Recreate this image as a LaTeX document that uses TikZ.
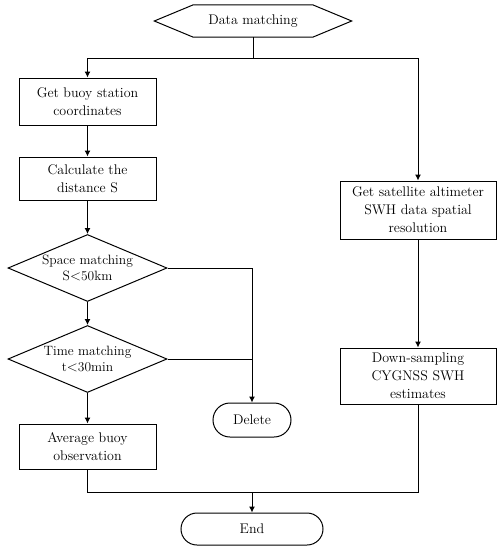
\documentclass[tikz,border=0pt]{standalone}
\usetikzlibrary{shapes.geometric,shapes.misc,arrows.meta}
\begin{document}
\begin{tikzpicture}[x=1pt,y=-1pt,
  every node/.style={font=\fontsize{14}{18}\selectfont, align=center, inner sep=0pt},
  box/.style={draw, line width=1pt, minimum width=137pt},
  rbox/.style={draw, line width=1pt, minimum width=156pt},
  dec/.style={diamond, draw, line width=1pt, minimum width=159pt, minimum height=67pt},
  dectext/.style={font=\fontsize{13.5}{16.5}\selectfont},
  term/.style={rounded rectangle, draw, line width=1pt},
  conn/.style={line width=1pt},
  arr/.style={conn, -{Latex[length=6pt,width=6pt]}}]
\useasboundingbox (0,0) rectangle (499,550);
% Data matching hexagon
\node (dm) at (253,21) [minimum width=119pt, minimum height=32pt] {Data matching};
\draw[conn] (dm.north west) -- (dm.north east) -- ([xshift=39pt]dm.east) -- (dm.south east) -- (dm.south west) -- ([xshift=-39pt]dm.west) -- cycle;
% left column
\node[box, minimum height=47pt] (b1) at (87.5,101.5) {Get buoy station\\coordinates};
\node[box, minimum height=43pt] (b2) at (87.5,178.5) {Calculate the\\distance S};
\node[dec] (d1) at (87.5,268) {};
\node[dectext] (d1t) at (d1) {Space matching\\S$<$50km};
\node[dec] (d2) at (87.5,359) {};
\node[dectext] (d2t) at (d2) {Time matching\\t$<$30min};
\node[box, minimum height=45pt] (b3) at (87.5,446.5) {Average buoy\\observation};
% right column
\node[rbox, minimum height=58pt] (r1) at (418,210) {Get satellite altimeter\\SWH data spatial\\resolution};
\node[rbox, minimum height=56pt] (r2) at (418,376) {Down-sampling\\CYGNSS SWH\\estimates};
% terminals
\node[term, minimum width=78pt, minimum height=34pt] (del) at (252,420) {Delete};
\node[term, minimum width=142pt, minimum height=32pt] (end) at (252,529) {End};
% junctions
\coordinate (j0) at (253,58);
\coordinate (jb) at (252,492);
% connectors
\draw[conn] (dm.south) -- (j0);
\draw[arr] (j0) -| (b1.north);
\draw[arr] (j0) -| (r1.north);
\draw[arr] (b1) -- (b2);
\draw[arr] (b2) -- (d1);
\draw[arr] (d1) -- (d2);
\draw[arr] (d2) -- (b3);
\draw[arr] (d1.east) -| (del.north);
\draw[conn] (d2.east) -- (d2.east -| del.north);
\draw[arr] (r1) -- (r2);
\draw[conn] (b3.south) |- (jb);
\draw[conn] (r2.south) |- (jb);
\draw[arr] (jb) -- (end.north);
\end{tikzpicture}
\end{document}
